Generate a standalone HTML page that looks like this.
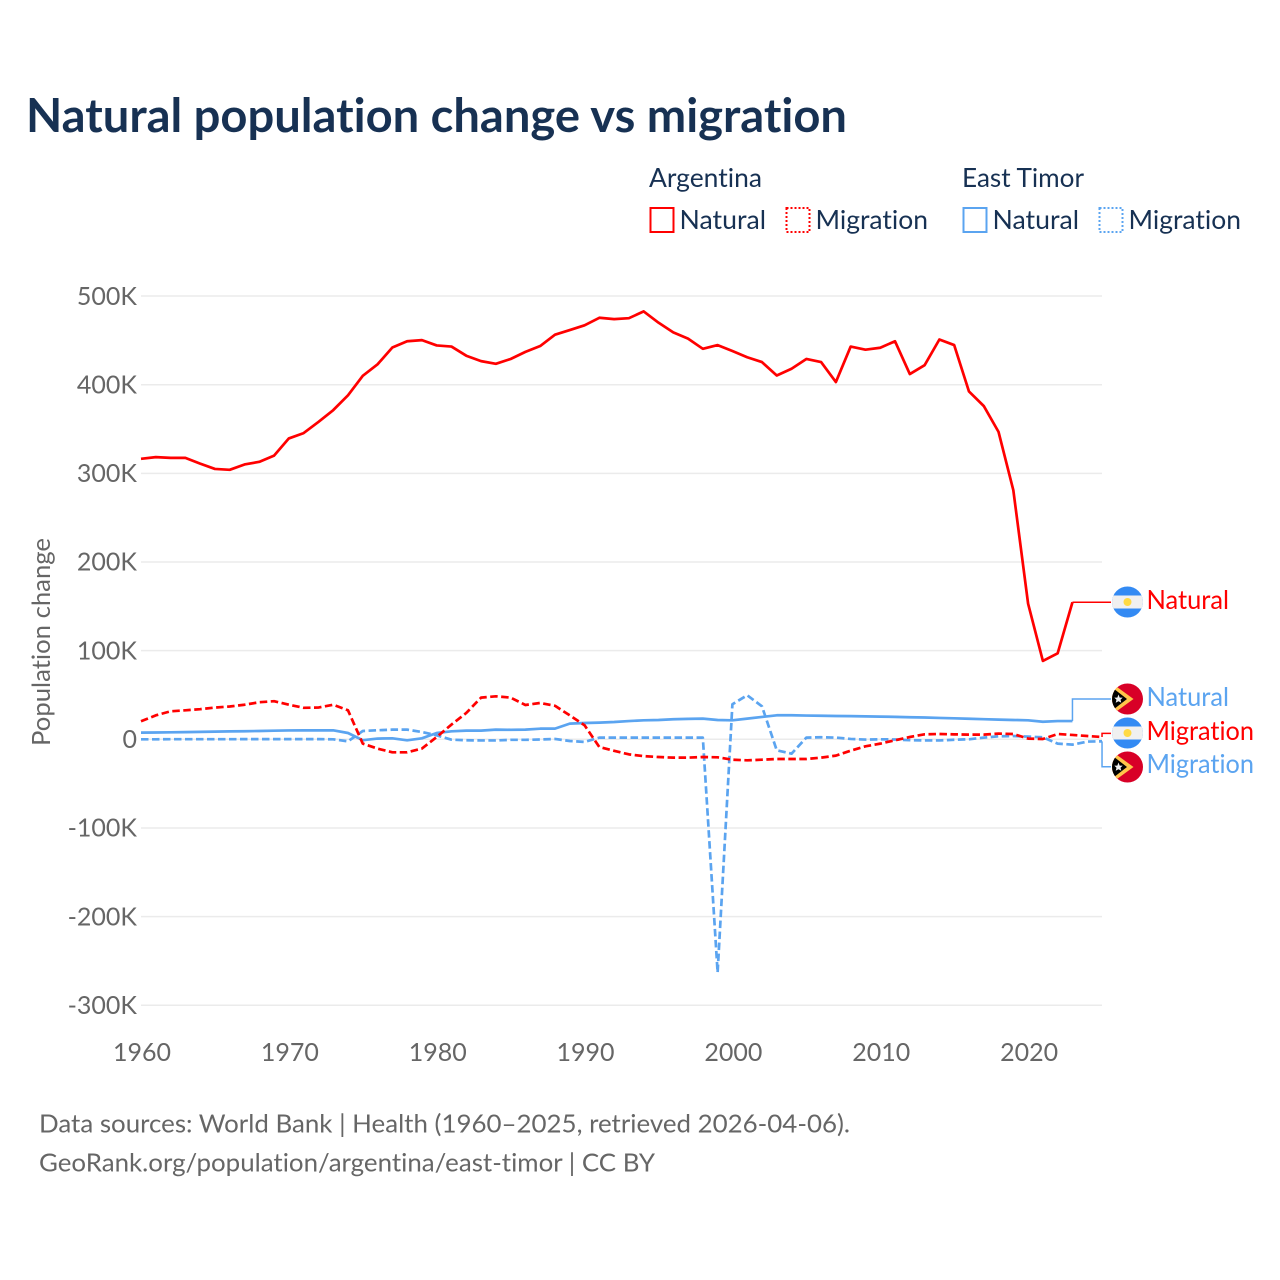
<!DOCTYPE html>
<html lang="en">
<head>
<meta charset="utf-8">
<title>Natural population change vs migration</title>
<style>
html,body{margin:0;padding:0;background:#fff;}
svg{display:block;}
text{font-family:"Lato","Carlito","Liberation Sans",sans-serif;font-variant-ligatures:none;}
</style>
</head>
<body>
<svg id="chart" xmlns="http://www.w3.org/2000/svg" width="1280" height="1280" viewBox="0 0 1280 1280">
  <defs>
    <clipPath id="flag-clip"><circle cx="0" cy="0" r="15.5"/></clipPath>
  </defs>
  <rect width="1280" height="1280" fill="#fff"/>
  <text x="26" y="132" font-size="47" font-weight="700" fill="#173153" textLength="821" lengthAdjust="spacingAndGlyphs">Natural population change vs migration</text>

  <g font-size="26" fill="#173153">
    <text x="649" y="187" textLength="113" lengthAdjust="spacingAndGlyphs">Argentina</text>
    <text x="962" y="187" textLength="122" lengthAdjust="spacingAndGlyphs">East Timor</text>
    <g>
      <rect x="650.5" y="208" width="23" height="24" fill="none" stroke="#ff0000" stroke-width="2"/>
      <text x="679.5" y="229" textLength="86.5" lengthAdjust="spacingAndGlyphs">Natural</text>
    </g>
    <g>
      <rect x="786.5" y="208" width="23" height="24" fill="none" stroke="#ff0000" stroke-width="2" stroke-dasharray="2 2"/>
      <text x="815.5" y="229" textLength="112.5" lengthAdjust="spacingAndGlyphs">Migration</text>
    </g>
    <g>
      <rect x="963.5" y="208" width="23" height="24" fill="none" stroke="#5ba4f0" stroke-width="2"/>
      <text x="992.5" y="229" textLength="86.5" lengthAdjust="spacingAndGlyphs">Natural</text>
    </g>
    <g>
      <rect x="1099.5" y="208" width="23" height="24" fill="none" stroke="#5ba4f0" stroke-width="2" stroke-dasharray="2 2"/>
      <text x="1128.5" y="229" textLength="112.5" lengthAdjust="spacingAndGlyphs">Migration</text>
    </g>
  </g>

  <g id="grid"></g>
  <g id="y-ticks" font-size="25" fill="#666666" text-anchor="end"></g>
  <g id="x-ticks" font-size="25" fill="#666666" text-anchor="middle"></g>
  <text transform="translate(50,642) rotate(-90)" text-anchor="middle" font-size="25" fill="#666666" textLength="208" lengthAdjust="spacingAndGlyphs">Population change</text>
  <g id="connectors"></g>
  <g id="series"></g>

  <g transform="translate(1127.5,602)">
    <g clip-path="url(#flag-clip)"><rect x="-16" y="-16" width="32" height="32" fill="#338af3"/><rect x="-16" y="-6.5" width="32" height="13" fill="#f0f0f0"/><circle cx="0" cy="0" r="4" fill="#ffda44"/></g>
  </g>
  <g transform="translate(1127.5,699)">
    <g clip-path="url(#flag-clip)"><rect x="-16" y="-16" width="32" height="32" fill="#d80027"/><path d="M-16,-16 L6,0 L-16,16 Z" fill="#ffc54a"/><path d="M-16,-12 L-0.5,0 L-16,12 Z" fill="#000"/><path d="M-9,-4.5 L-7.8,-1.4 L-4.8,-1.4 L-7,0.8 L-6.2,3.8 L-9,2.2 L-11.8,3.8 L-11,0.8 L-13.2,-1.4 L-10.2,-1.4 Z" fill="#f0f0f0"/></g>
  </g>
  <g transform="translate(1127.5,733)">
    <g clip-path="url(#flag-clip)"><rect x="-16" y="-16" width="32" height="32" fill="#338af3"/><rect x="-16" y="-6.5" width="32" height="13" fill="#f0f0f0"/><circle cx="0" cy="0" r="4" fill="#ffda44"/></g>
  </g>
  <g transform="translate(1127.5,767)">
    <g clip-path="url(#flag-clip)"><rect x="-16" y="-16" width="32" height="32" fill="#d80027"/><path d="M-16,-16 L6,0 L-16,16 Z" fill="#ffc54a"/><path d="M-16,-12 L-0.5,0 L-16,12 Z" fill="#000"/><path d="M-9,-4.5 L-7.8,-1.4 L-4.8,-1.4 L-7,0.8 L-6.2,3.8 L-9,2.2 L-11.8,3.8 L-11,0.8 L-13.2,-1.4 L-10.2,-1.4 Z" fill="#f0f0f0"/></g>
  </g>

  <g font-size="26">
    <text x="1146.5" y="609" fill="#ff0000" textLength="82.5" lengthAdjust="spacingAndGlyphs">Natural</text>
    <text x="1146.5" y="706" fill="#5ba4f0" textLength="82.5" lengthAdjust="spacingAndGlyphs">Natural</text>
    <text x="1146.5" y="740" fill="#ff0000" textLength="107.5" lengthAdjust="spacingAndGlyphs">Migration</text>
    <text x="1146.5" y="773" fill="#5ba4f0" textLength="107.5" lengthAdjust="spacingAndGlyphs">Migration</text>
  </g>

  <g font-size="25" fill="#666666">
    <text x="39" y="1132.5" textLength="811" lengthAdjust="spacingAndGlyphs">Data sources: World Bank | Health (1960–2025, retrieved 2026-04-06).</text>
    <text x="39" y="1171.5" textLength="616" lengthAdjust="spacingAndGlyphs">GeoRank.org/population/argentina/east-timor | CC BY</text>
  </g>
</svg>
<script>
const startYear = 1960;
const yTickValues = [500, 400, 300, 200, 100, 0, -100, -200, -300];
const yTickLabels = ['500K', '400K', '300K', '200K', '100K', '0', '-100K', '-200K', '-300K'];
const xTickYears = [1960, 1970, 1980, 1990, 2000, 2010, 2020];
const argentinaNatural = [316.4,318.3,317.5,317.5,311,305,304,310,313,320,339.4,345.4,358,371.3,388,410,423,442,449,450.3,444.3,443,432.7,426.6,423.6,429,437,443.6,456.4,461.6,467,475.5,474,475,482.7,470,459,452,440.5,444.7,438,431,425.5,410.4,418,429,425.5,403,443,439.5,441.7,449,412,422,451,444.7,392.4,376,346.8,281,153,88.4,97,154.6,null,null];
const argentinaMigration = [20.3,27,31.6,32.7,34,35.8,37,39,41.8,43,39,35.5,35.8,39,32.7,-4.9,-10.5,-14.7,-14.7,-10.5,2.6,16.6,29.7,47,48.5,47,38.7,41,37.8,27,15.8,-8.7,-13,-17,-19,-20,-20.7,-20.7,-20,-20.3,-23,-23.7,-23,-22.2,-22.2,-22.2,-20.7,-18.4,-12.8,-7.9,-4.9,-1.1,2.6,5.6,6,5.6,5.3,5.3,6.4,6,0.8,0.3,6,4.9,3.7,2.6];
const timorNatural = [7.5,7.7,7.9,8.1,8.4,8.7,8.9,9.1,9.4,9.7,10,10.1,10.1,10.1,7.1,-1,0.8,1.1,-1.1,1.1,7.1,9,9.8,9.8,10.9,10.7,10.9,12,12,17.7,18.4,18.8,19.5,20.6,21.4,21.8,22.6,23,23.3,21.8,21.4,23.3,25.2,27.1,27.1,26.8,26.6,26.3,26.1,25.9,25.6,25.3,24.9,24.6,24.1,23.7,23.2,22.7,22.2,21.8,21.4,19.8,20.6,20.6,null,null];
const timorMigration = [0,0,0.1,0.1,0.1,0.1,0.1,0.2,0.2,0.2,0.2,0.2,0.2,0,-2.3,9.4,10.2,10.9,10.9,8.2,4.5,-0.4,-1.1,-1.3,-1.3,-0.6,-0.6,-0.2,0.4,-1.9,-3,1.9,1.9,1.9,1.9,1.9,1.9,1.9,1.9,-263,39.5,49.7,37.2,-12.4,-16.2,1.9,2.3,1.9,0.4,-0.3,0,-0.2,-1,-1.3,-1.3,-0.5,0,1.9,3.4,3.7,3,2.3,-4.9,-6,-2.6,-2.3];
const seriesNames = ['argentina-natural', 'east-timor-natural', 'east-timor-migration', 'argentina-migration'];
const labelValues = [154.6, 45.5, -31, 6.7];

const NS = 'http://www.w3.org/2000/svg';
const RED = '#ff0000';
const BLUE = '#5ba4f0';
function xScale(year) { return 141 + (year - 1960) * 14.785; }
function yScale(valueK) { return 739.3 - valueK * 0.8865; }

const grid = document.getElementById('grid');
const yTicks = document.getElementById('y-ticks');
const xTicks = document.getElementById('x-ticks');
const seriesGroup = document.getElementById('series');
const connectors = document.getElementById('connectors');

yTickValues.forEach(function (v, i) {
  const line = document.createElementNS(NS, 'line');
  
  
  line.setAttribute('x1', 141);
  line.setAttribute('x2', 1102);
  line.setAttribute('y1', yScale(v));
  line.setAttribute('y2', yScale(v));
  line.setAttribute('stroke', '#ebebeb');
  line.setAttribute('stroke-width', '1.5');
  grid.appendChild(line);
  const label = document.createElementNS(NS, 'text');
  
  
  label.setAttribute('x', 137);
  label.setAttribute('y', yScale(v) + 8.7);
  label.textContent = yTickLabels[i];
  yTicks.appendChild(label);
});

xTickYears.forEach(function (year) {
  const label = document.createElementNS(NS, 'text');
  
  
  label.setAttribute('x', xScale(year) + 1);
  label.setAttribute('y', 1061);
  label.textContent = year;
  xTicks.appendChild(label);
});

function drawSeries(values, name, color, dash, labelValue) {
  let d = '';
  let lastX = 0;
  let lastY = 0;
  values.forEach(function (v, i) {
    if (v === null) return;
    lastX = xScale(startYear + i);
    lastY = yScale(v);
    d += (d ? 'L' : 'M') + lastX.toFixed(2) + ',' + lastY.toFixed(2);
  });
  const path = document.createElementNS(NS, 'path');
  
  
  path.setAttribute('d', d);
  path.setAttribute('fill', 'none');
  path.setAttribute('stroke', color);
  path.setAttribute('stroke-width', '2.7');
  path.setAttribute('stroke-linejoin', 'round');
  if (dash) path.setAttribute('stroke-dasharray', '7.5 3.5');
  seriesGroup.appendChild(path);
  const conn = document.createElementNS(NS, 'path');
  
  
  const ly = yScale(labelValue).toFixed(2);
  conn.setAttribute('d', 'M' + lastX.toFixed(2) + ',' + lastY.toFixed(2) + 'V' + ly + 'H1111');
  conn.setAttribute('fill', 'none');
  conn.setAttribute('stroke', color);
  conn.setAttribute('stroke-width', '1.5');
  connectors.appendChild(conn);
}

drawSeries(argentinaNatural, seriesNames[0], RED, false, labelValues[0]);
drawSeries(timorNatural, seriesNames[1], BLUE, false, labelValues[1]);
drawSeries(timorMigration, seriesNames[2], BLUE, true, labelValues[2]);
drawSeries(argentinaMigration, seriesNames[3], RED, true, labelValues[3]);
</script>
</body>
</html>
